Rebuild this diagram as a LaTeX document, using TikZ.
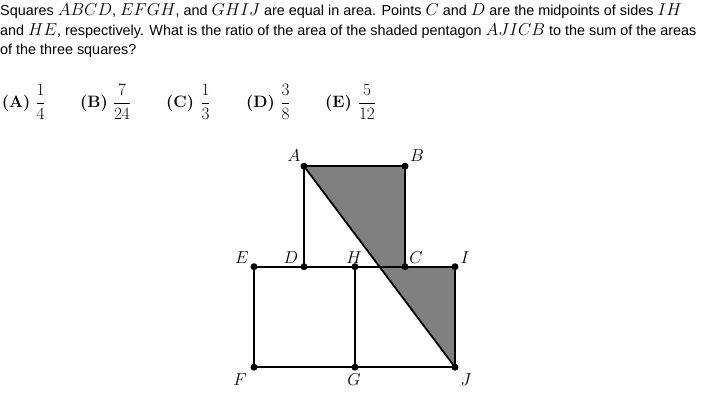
\documentclass[tikz,border=0pt]{standalone}
\usepackage{amsmath}
\usepackage[no-math]{fontspec}
\setsansfont{Liberation Sans}
\newcommand\mth[1]{{\fontsize{17.28}{19}\selectfont$#1$}}
\begin{document}
\begin{tikzpicture}[x=1pt,y=-1pt,
  txt/.style={anchor=base west,inner sep=0pt,font=\sffamily\fontsize{14.4}{19}\selectfont},
  bold/.style={anchor=base west,inner sep=0pt,font=\bfseries\fontsize{16.5}{18}\selectfont},
  frc/.style={inner sep=0pt,font=\fontsize{17.28}{18}\selectfont},
  lbl/.style={inner sep=0pt,font=\fontsize{17.28}{18}\selectfont},
  edge/.style={line width=1.8pt,black},
  dot/.style={circle,fill=black,inner sep=0pt,minimum size=7pt}]
\useasboundingbox (0,0) rectangle (707,400);
% question text
\node[txt] (l1) at (0,15) {Squares \mth{ABCD}, \mth{EFGH}, and \mth{GHIJ} are equal in area. Points \mth{C} and \mth{D} are the midpoints of sides \mth{IH}};
\node[txt] (l2) at (0,35) {and \mth{HE}, respectively. What is the ratio of the area of the shaded pentagon \mth{AJICB} to the sum of the areas};
\node[txt] (l3) at (0,54) {of the three squares?};
% answers
\node[bold] (aA) at (1.7,107.5) {(A)};
\node[bold] (aB) at (80,107.5) {(B)};
\node[bold] (aC) at (166,107.5) {(C)};
\node[bold] (aD) at (246,107.5) {(D)};
\node[bold] (aE) at (325,107.5) {(E)};
\node[frc] (fA) at (40.5,102) {$\dfrac{1}{4}$};
\node[frc] (fB) at (122,102) {$\dfrac{7}{24}$};
\node[frc] (fC) at (205.5,102) {$\dfrac{1}{3}$};
\node[frc] (fD) at (285.5,102) {$\dfrac{3}{8}$};
\node[frc] (fE) at (367,102) {$\dfrac{5}{12}$};
% points
\coordinate (A) at (304,166.2);
\coordinate (B) at (405,166.2);
\coordinate (E) at (254,266.7);
\coordinate (D) at (304,266.7);
\coordinate (H) at (355,266.7);
\coordinate (C) at (405,266.7);
\coordinate (I) at (455,266.7);
\coordinate (F) at (254,367.2);
\coordinate (G) at (355,367.2);
\coordinate (J) at (455,367.2);
% shaded pentagon
\fill[black!50] (A) -- (J) -- (I) -- (C) -- (B) -- cycle;
% edges
\draw[edge] (A) -- (B) -- (C);
\draw[edge] (A) -- (D);
\draw[edge] (E) -- (I) -- (J) -- (F) -- cycle;
\draw[edge] (H) -- (G);
\draw[edge] (A) -- (J);
% dots
\foreach \p in {A,B,C,D,E,F,G,H,I,J} \node[dot] (d\p) at (\p) {};
% labels
\node[lbl] (tA) at (294,155.5) {$A$};
\node[lbl] (tB) at (417,155.5) {$B$};
\node[lbl] (tE) at (242,258) {$E$};
\node[lbl] (tD) at (291,258) {$D$};
\node[lbl] (tH) at (354,258) {$H$};
\node[lbl] (tC) at (416,258) {$C$};
\node[lbl] (tI) at (465,258) {$I$};
\node[lbl] (tF) at (240,379.5) {$F$};
\node[lbl] (tG) at (354,380) {$G$};
\node[lbl] (tJ) at (466,379.5) {$J$};
\end{tikzpicture}
\end{document}
